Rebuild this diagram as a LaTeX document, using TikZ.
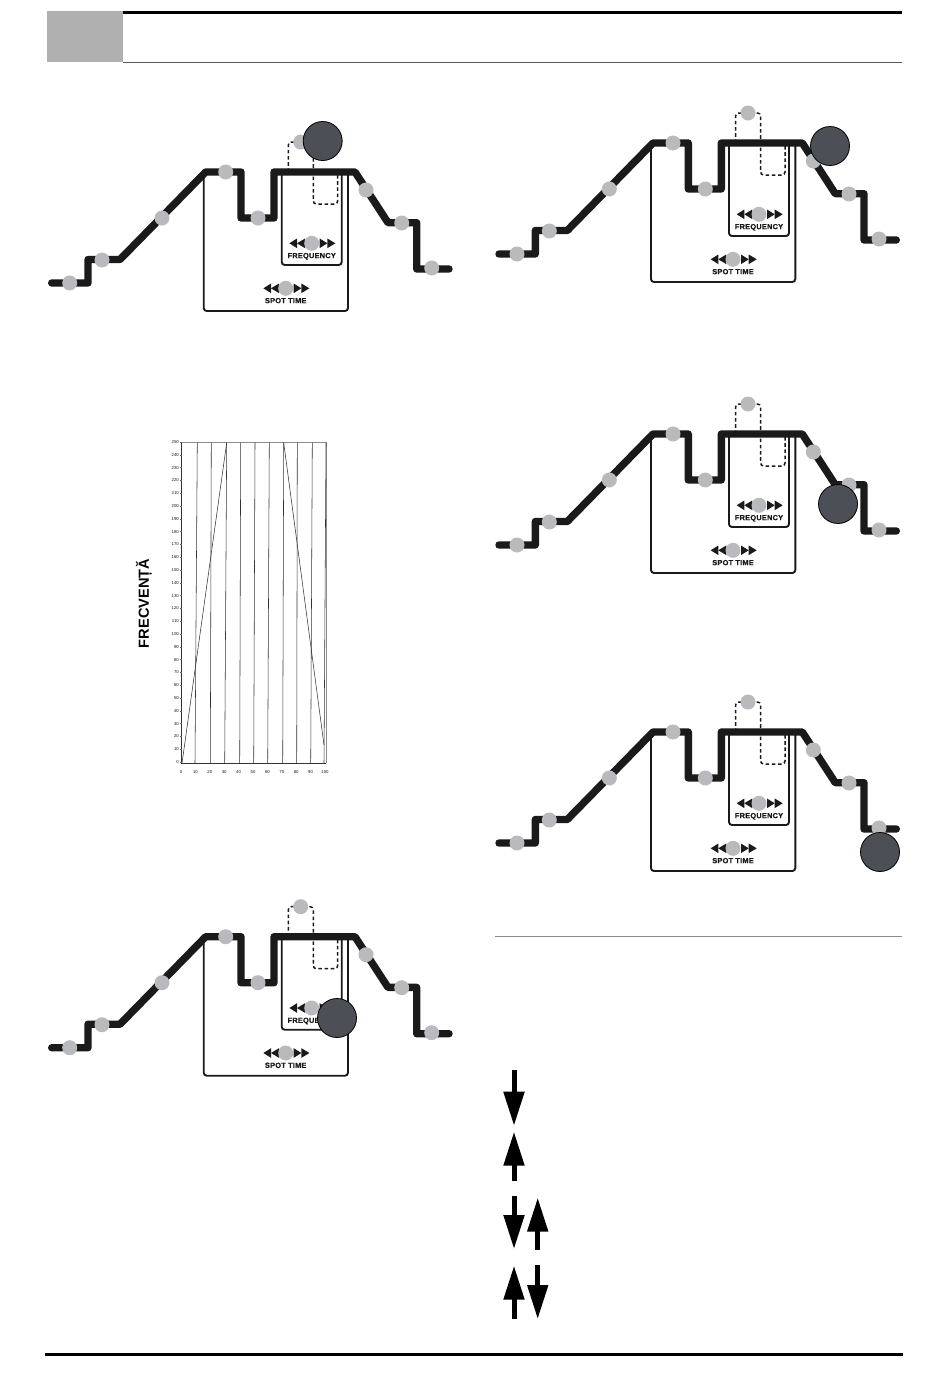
\documentclass[tikz,border=0pt]{standalone}
\usepackage{fontspec}
\setmainfont{Liberation Sans}
\newfontfamily\panelfont[LetterSpace=3,FakeBold=0.6]{Liberation Sans Bold}
\usetikzlibrary{arrows.meta}
\definecolor{spotgray}{HTML}{B9BABD}
\definecolor{ballgray}{HTML}{4D4F57}
\definecolor{trackblack}{HTML}{1A1A1A}
\tikzset{
  track/.style={draw=trackblack,line width=7.4pt,line cap=round,line join=round},
  framebox/.style={draw=trackblack,line width=1.9pt,rounded corners=3pt},
  dashbox/.style={draw=trackblack,line width=1.5pt,dash pattern=on 3.6pt off 2.6pt,rounded corners=3pt},
  spot/.style={circle,fill=spotgray,minimum size=15pt,inner sep=0pt},
  ball/.style={circle,draw=black,line width=.8pt,fill=ballgray,minimum size=39pt,inner sep=0pt},
  paneltext/.style={font=\fontsize{7.4}{8}\panelfont\selectfont,text=trackblack,inner sep=0pt},
  ticktext/.style={font=\fontsize{4.3}{4}\selectfont,text=black!90,inner sep=0pt},
  gridline/.style={draw=black!80,line width=.55pt},
  bigarrow/.style={line width=5pt,-{Triangle[length=34pt,width=20pt]}}
}
\newcommand{\spotcontrol}[4]{
\fill[trackblack] (#1-22.3,#2) -- (#1-14.7,#2-4.8) -- (#1-14.7,#2+4.8) -- cycle;
\fill[trackblack] (#1-14.7,#2) -- (#1-6.7,#2-4.8) -- (#1-6.7,#2+4.8) -- cycle;
\fill[trackblack] (#1+15.7,#2) -- (#1+8,#2-4.8) -- (#1+8,#2+4.8) -- cycle;
\fill[trackblack] (#1+23.7,#2) -- (#1+15.7,#2-4.8) -- (#1+15.7,#2+4.8) -- cycle;
\node[spot] (#3) at (#1,#2) {};
\node[paneltext,below=0pt] (#3t) at (#1,#2+9.5) {#4};
}
\newcommand{\weldpanel}[4]{
\begin{scope}[shift={(#1,#2)}]
\draw[framebox] (203.7,172) -- (203.7,311) -- (348,311) -- (348,172);
\draw[framebox] (281.7,172) -- (281.7,265) -- (341.7,265) -- (341.7,172);
\draw[dashbox] (288.3,172) -- (288.3,142) -- (313.3,142) -- (313.3,204) -- (337.7,204) -- (337.7,174);
\draw[track] (51.7,283) -- (88,283) -- (88,259.5) -- (120,259.5) -- (205.7,172) -- (241,172) -- (241,218) -- (274,218) -- (274,172) -- (355,172) -- (388,222.7) -- (416.7,222.7) -- (416.7,269) -- (449,269);
\foreach \name/\px/\py in {a/69.7/283,b/102/260,c/162/218,d/225.7/172,e/258/218,f/366/190,g/401.7/223,h/431.7/268,i/300.7/142}
  \node[spot] (\name) at (\px,\py) {};
\spotcontrol{311.7}{243.3}{freq}{FREQUENCY}
\spotcontrol{285.7}{288.3}{time}{SPOT TIME}
\node[ball] (ball) at (#3,#4) {};
\end{scope}
}
\begin{document}
\begin{tikzpicture}[x=1pt,y=-1pt]
\useasboundingbox (0,0) rectangle (950,1387);
\fill[white] (0,0) rectangle (950,1387);

\fill[black!31] (47,11) rectangle (123,62);
\fill[black] (123,10.5) rectangle (902,14);
\draw[black!65,line width=.8pt] (123,62.3) -- (902,62.3);
\fill[black] (45,1352.8) rectangle (903,1356);
\draw[black!45,line width=.8pt] (495,936) -- (902,936);

\weldpanel{0}{0}{322.7}{141}
\weldpanel{447.3}{-29}{382.7}{175}
\weldpanel{447.3}{262}{390.7}{242}
\weldpanel{447.3}{560}{432.7}{292}
\weldpanel{0}{764.7}{337}{253.3}

\draw[black!45,line width=.5pt] (181.7,442.7) -- (326,442.7) -- (326,763.3);
\draw[gridline] (181.7,442.7) -- (181.7,763.3) -- (326,763.3);
\foreach \xa/\xb in {195/197.3,210.3/211.3,224.7/226.7,239.7/240.7,253.7/255,267.7/269.3,282.7/283.7,296.7/297.3,310.7/312.3,324/326}
  \draw[gridline] (\xa,763.3) -- (\xb,442.7);
\draw[gridline] (182,763.3) -- (226.7,442.7);
\draw[gridline] (283.7,442.7) -- (324,745);
\foreach \v [evaluate=\v as \ty using 762-\v*1.28] in {0,10,...,250}{
  \draw[black!60,line width=.3pt] (179.7,\ty) -- (181.7,\ty);
  \node[ticktext,anchor=east] (ytick\v) at (179,\ty) {\v};
}
\foreach \v [evaluate=\v as \tx using 181+\v*1.44] in {0,10,...,100}
  \node[ticktext] (xtick\v) at (\tx,772) {\v};
\node[font=\fontsize{14.6}{15}\selectfont\bfseries,rotate=90,inner sep=0pt] (freqlabel) at (144,603.5) {FRECVENȚĂ};

\draw[bigarrow] (514,1070) -- (514,1125.7);
\draw[bigarrow] (514,1180.7) -- (514,1131.7);
\draw[bigarrow] (514,1195.7) -- (514,1249);
\draw[bigarrow] (537.7,1250) -- (537.7,1197.7);
\draw[bigarrow] (514,1319.3) -- (514,1265.7);
\draw[bigarrow] (537.7,1265) -- (537.7,1319);
\end{tikzpicture}
\end{document}
